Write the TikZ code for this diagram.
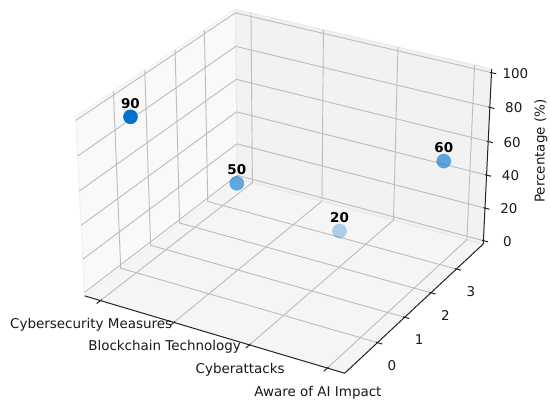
\documentclass[tikz,border=0pt]{standalone}
\usepackage{fontspec}
\setmainfont{DejaVu Sans}
\usetikzlibrary{calc}
\definecolor{gridc}{HTML}{BDBDBD}
\definecolor{paneL}{HTML}{F9F9F9}
\definecolor{paneR}{HTML}{F2F2F2}
\definecolor{paneF}{HTML}{F5F5F5}
\definecolor{paneLe}{HTML}{F1F1F1}
\definecolor{paneRe}{HTML}{E8E8E8}
\definecolor{paneFe}{HTML}{ECECEC}
\definecolor{dotc}{RGB}{0,114,204}
% projection of data (X,Y,Z) to picture coordinates (pixel-like units)
\newcommand\mkpt[4]{%
  \pgfmathsetmacro\pjwx{(#2+0.21875)*0.332468}%
  \pgfmathsetmacro\pjwy{(#3+1.164)*0.217480}%
  \pgfmathsetmacro\pjwz{(#4+2.083333)*0.00822857}%
  \pgfmathsetmacro\pjd{10.033151-(0.433013*\pjwx-0.75*\pjwy+0.5*\pjwz)}%
  \pgfmathsetmacro\pjx{287.5+2607*(0.866025*\pjwx+0.5*\pjwy-0.780586)/\pjd}%
  \pgfmathsetmacro\pjy{182.8-2385*(-0.25*\pjwx+0.433013*\pjwy+0.866025*\pjwz-0.475733)/\pjd}%
  \coordinate (#1) at (\pjx,\pjy);%
}
\tikzset{
  gridline/.style={draw=gridc, line width=0.7pt},
  axisline/.style={draw=black!85, line width=0.75pt},
  ticklab/.style={font=\fontsize{10.1}{12}\selectfont, text=black!90, inner sep=0pt},
  ptlab/.style={font=\fontsize{10.1}{12}\selectfont\bfseries, text=black, inner sep=0pt},
  dotstyle/.style={fill=dotc, draw=none},
}
\begin{document}
\begin{tikzpicture}[x=0.75pt, y=-0.75pt]
\useasboundingbox (0,0) rectangle (550,405);
\fill[white] (0,0) rectangle (550,405);
% box corners
\mkpt{L}{-0.21875}{-1.164}{-2.083333}
\mkpt{F}{3.21875}{-1.164}{-2.083333}
\mkpt{R}{3.21875}{4.091}{-2.083333}
\mkpt{B}{-0.21875}{4.091}{-2.083333}
\mkpt{TL}{-0.21875}{-1.164}{102.083333}
\mkpt{TB}{-0.21875}{4.091}{102.083333}
\mkpt{TR}{3.21875}{4.091}{102.083333}
% panes
\filldraw[fill=paneF, draw=paneFe, line width=0.75pt, line join=round] (L) -- (F) -- (R) -- (B) -- cycle;
\filldraw[fill=paneL, draw=paneLe, line width=0.75pt, line join=round] (L) -- (B) -- (TB) -- (TL) -- cycle;
\filldraw[fill=paneR, draw=paneRe, line width=0.75pt, line join=round] (B) -- (R) -- (TR) -- (TB) -- cycle;
% grid lines for X ticks
\foreach \i in {0,1,2,3}{
  \mkpt{gxa\i}{\i}{-1.164}{-2.083333}
  \mkpt{gxb\i}{\i}{4.091}{-2.083333}
  \mkpt{gxc\i}{\i}{4.091}{102.083333}
  \draw[gridline] (gxa\i) -- (gxb\i) -- (gxc\i);
}
% grid lines for Y ticks
\foreach \j in {0,1,2,3}{
  \mkpt{gya\j}{3.21875}{\j}{-2.083333}
  \mkpt{gyb\j}{-0.21875}{\j}{-2.083333}
  \mkpt{gyc\j}{-0.21875}{\j}{102.083333}
  \draw[gridline] (gya\j) -- (gyb\j) -- (gyc\j);
}
% grid lines for Z ticks
\foreach \k in {0,20,40,60,80,100}{
  \mkpt{gza\k}{-0.21875}{-1.164}{\k}
  \mkpt{gzb\k}{-0.21875}{4.091}{\k}
  \mkpt{gzc\k}{3.21875}{4.091}{\k}
  \draw[gridline] (gza\k) -- (gzb\k) -- (gzc\k);
}
% axis lines
\draw[axisline] (L) -- (F);
\draw[axisline] (F) -- (R);
\draw[axisline] (R) -- (TR);
% x ticks and labels
\foreach \i/\t in {0/Cybersecurity Measures,1/Blockchain Technology,2/Cyberattacks,3/Aware of AI Impact}{
  \mkpt{xti\i}{\i}{-1.124}{-2.083333}
  \mkpt{xto\i}{\i}{-1.284}{-2.083333}
  \draw[axisline] (xti\i) -- (xto\i);
  \node[ticklab] (xl\i) at ($(xti\i)+(-10.5,25.5)$) {\t};
}
% y ticks and labels
\foreach \j in {0,1,2,3}{
  \mkpt{yti\j}{3.19875}{\j}{-2.083333}
  \mkpt{yto\j}{3.27875}{\j}{-2.083333}
  \draw[axisline] (yti\j) -- (yto\j);
  \node[ticklab] (yl\j) at ($(yti\j)+(16,23)$) {\j};
}
% z ticks and labels
\foreach \k in {0,20,40,60,80,100}{
  \mkpt{zti\k}{3.19875}{4.091}{\k}
  \mkpt{zto\k}{3.27875}{4.091}{\k}
  \draw[axisline] (zti\k) -- (zto\k);
  \node[ticklab] (zl\k) at ($(zti\k)+(25.5,1)$) {\k};
}
\node[ticklab, rotate=90] (zlabel) at (541,151) {Percentage (\%)};
% data points
\mkpt{p0}{0}{0}{90}
\mkpt{p1}{1}{1}{50}
\mkpt{p2}{2}{2}{20}
\mkpt{p3}{3}{3}{60}
\fill[dotstyle, opacity=0.3] (p2) circle[radius=5.5pt];
\fill[dotstyle, opacity=0.60] (p1) circle[radius=5.5pt];
\fill[dotstyle, opacity=0.61] (p3) circle[radius=5.5pt];
\fill[dotstyle] (p0) circle[radius=5.5pt];
\node[ptlab] (v0) at ($(p0)+(0,-13.5)$) {90};
\node[ptlab] (v1) at ($(p1)+(0,-13.5)$) {50};
\node[ptlab] (v2) at ($(p2)+(0,-13.5)$) {20};
\node[ptlab] (v3) at ($(p3)+(0,-13.5)$) {60};
\end{tikzpicture}
\end{document}
